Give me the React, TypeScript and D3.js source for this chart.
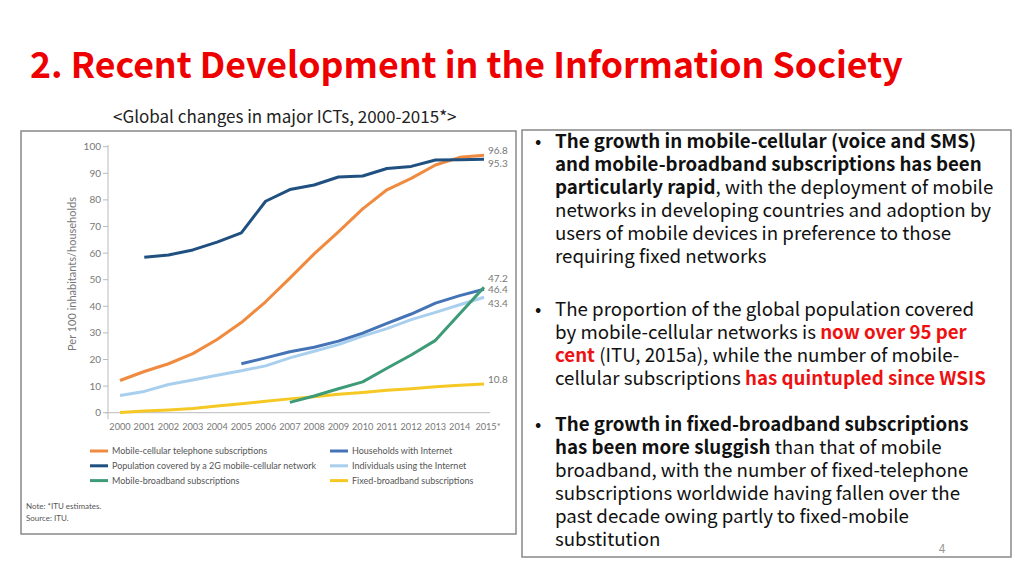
import React from "react";
import * as d3 from "d3";

// ---- data ----
const years = [2000, 2001, 2002, 2003, 2004, 2005, 2006, 2007, 2008, 2009, 2010, 2011, 2012, 2013, 2014, 2015];
const yearLabels = ["2000", "2001", "2002", "2003", "2004", "2005", "2006", "2007", "2008", "2009", "2010", "2011", "2012", "2013", "2014", "2015*"];
const yTicks = [0, 10, 20, 30, 40, 50, 60, 70, 80, 90, 100];

const mobileCellular = [12.1, 15.5, 18.4, 22.2, 27.5, 33.9, 41.7, 50.6, 59.7, 68.0, 76.6, 83.8, 88.1, 93.1, 96.0, 96.8];
const population2G = [null, 58.4, 59.3, 61.2, 64.1, 67.6, 79.5, 83.9, 85.6, 88.6, 89.0, 91.8, 92.6, 95.0, 95.1, 95.3];
const mobileBroadband = [null, null, null, null, null, null, null, 3.9, 6.3, 9.0, 11.6, 16.7, 21.7, 27.2, 37.2, 47.2];
const householdsInternet = [null, null, null, null, null, 18.4, 20.6, 22.9, 24.6, 26.9, 29.9, 33.6, 37.1, 41.2, 44.0, 46.4];
const individualsInternet = [6.5, 8.0, 10.6, 12.3, 14.1, 15.8, 17.6, 20.6, 23.1, 25.6, 28.8, 31.6, 35.0, 37.7, 40.6, 43.4];
const fixedBroadband = [0.1, 0.6, 1.0, 1.6, 2.5, 3.4, 4.3, 5.2, 6.0, 6.9, 7.6, 8.4, 9.0, 9.8, 10.3, 10.8];

const seriesNames = [
  "Mobile-cellular telephone subscriptions",
  "Population covered by a 2G mobile-cellular network",
  "Mobile-broadband subscriptions",
  "Households with Internet",
  "Individuals using the Internet",
  "Fixed-broadband subscriptions",
];
const seriesValues = [mobileCellular, population2G, mobileBroadband, householdsInternet, individualsInternet, fixedBroadband];
const seriesColors = ["#ef8a3f", "#1f5080", "#3d9b78", "#4473b6", "#a9cfee", "#f6c823"];
// end-of-line value labels
const endLabels = ["96.8", "95.3", "47.2", "46.4", "43.4", "10.8"];
const endLabelY = [150, 163.5, 278.5, 289.5, 303.5, 379.5];

const chartFont = "Lato, 'Open Sans', sans-serif";
const textFont = "'Noto Sans CJK KR', 'Open Sans', sans-serif";

type Seg = { t: string; b?: boolean; red?: boolean };
const para1: Seg[][] = [
  [{ t: "The growth in mobile-cellular (voice and SMS)", b: true }],
  [{ t: "and mobile-broadband subscriptions has been", b: true }],
  [{ t: "particularly rapid", b: true }, { t: ", with the deployment of mobile" }],
  [{ t: "networks in developing countries and adoption by" }],
  [{ t: "users of mobile devices in preference to those" }],
  [{ t: "requiring fixed networks" }],
];
const para2: Seg[][] = [
  [{ t: "The proportion of the global population covered" }],
  [{ t: "by mobile-cellular networks is " }, { t: "now over 95 per", b: true, red: true }],
  [{ t: "cent", b: true, red: true }, { t: " (ITU, 2015a), while the number of mobile-" }],
  [{ t: "cellular subscriptions " }, { t: "has quintupled since WSIS", b: true, red: true }],
];
const para3: Seg[][] = [
  [{ t: "The growth in fixed-broadband subscriptions", b: true }],
  [{ t: "has been more sluggish", b: true }, { t: " than that of mobile" }],
  [{ t: "broadband, with the number of fixed-telephone" }],
  [{ t: "subscriptions worldwide having fallen over the" }],
  [{ t: "past decade owing partly to fixed-mobile" }],
  [{ t: "substitution" }],
];

const Paragraph = ({ lines, y0 }: { lines: Seg[][]; y0: number }) => (
  <g>
    <text x={535} y={y0} fontSize={18.7} fontFamily={textFont} fill="#111">•</text>
    {lines.map((line, i) => (
      <text key={i} x={555} y={y0 + i * 23} fontSize={18.7} fontFamily={textFont} fill="#111">
        {line.map((s, j) => (
          <tspan key={j} fontWeight={s.b ? 700 : 400} fill={s.red ? "#ee1111" : "#111"}>{s.t}</tspan>
        ))}
      </text>
    ))}
  </g>
);

export default function App() {
  const x = d3.scalePoint<number>().domain(years).range([120, 484]);
  const y = d3.scaleLinear().domain([0, 100]).range([412.7, 146.7]);
  const line = d3
    .line<number | null>()
    .defined((d) => d != null)
    .x((_, i) => x(years[i]) as number)
    .y((d) => y(d as number));

  return (
    <svg width={1024} height={576} style={{ position: "absolute", left: 0, top: 0, background: "#fff" }}>
      {/* title */}
      <text x={30} y={78} fontSize={35.7} fontWeight={700} fill="#ee0000" fontFamily={textFont}>
        2. Recent Development in the Information Society
      </text>
      <text x={113} y={123} fontSize={17} fill="#222" fontFamily={textFont}>
        &lt;Global changes in major ICTs, 2000-2015*&gt;
      </text>

      {/* chart frame */}
      <rect x={21} y={131} width={495} height={403} fill="none" stroke="#888" strokeWidth={1.5} />

      {/* y axis */}
      <line x1={108} x2={108} y1={145} y2={419} stroke="#bbb" />
      {yTicks.map((t) => (
        <g key={t}>
          <line x1={103} x2={108} y1={y(t)} y2={y(t)} stroke="#bbb" />
          <text x={101} y={y(t) + 3.5} fontSize={10} textAnchor="end" fill="#777" fontFamily={chartFont}>{t}</text>
        </g>
      ))}
      <line x1={105} x2={490} y1={y(0)} y2={y(0)} stroke="#bbb" />
      {years.map((yr, i) => (
        <text key={yr} x={(x(yr) as number) + (yr === 2015 ? 4 : 0)} y={430} fontSize={9.2} textAnchor="middle" fill="#777" fontFamily={chartFont}>
          {yearLabels[i]}
        </text>
      ))}
      <text transform="translate(76,274) rotate(-90)" fontSize={11} textAnchor="middle" fill="#777" fontFamily={chartFont}>
        Per 100 inhabitants/households
      </text>

      {/* lines (drawn light first, dark on top) */}
      {[4, 5, 3, 2, 0, 1].map((k) => (
        <path key={k} d={line(seriesValues[k]) ?? ""} fill="none" stroke={seriesColors[k]} strokeWidth={3} strokeLinejoin="round" />
      ))}
      {endLabels.map((l, i) => (
        <text key={l} x={488} y={endLabelY[i] + 3.5} fontSize={10} fill="#777" fontFamily={chartFont}>{l}</text>
      ))}

      {/* legend */}
      {seriesNames.map((n, i) => {
        const col = i < 3 ? 0 : 1;
        const row = i % 3;
        const lx = col === 0 ? 90 : 330;
        const ly = 451 + row * 14.8;
        return (
          <g key={n}>
            <line x1={lx} x2={lx + 18} y1={ly} y2={ly} stroke={seriesColors[i]} strokeWidth={3} />
            <text x={lx + 22} y={ly + 3.3} fontSize={9} fill="#555" fontFamily={chartFont}>{n}</text>
          </g>
        );
      })}
      <text x={26} y={509} fontSize={8} fill="#555" fontFamily={chartFont}>Note: *ITU estimates.</text>
      <text x={26} y={521} fontSize={8} fill="#555" fontFamily={chartFont}>Source: ITU.</text>

      {/* text box */}
      <rect x={522} y={130} width={489} height={427} fill="none" stroke="#888" strokeWidth={1.5} />
      <Paragraph lines={para1} y0={148} />
      <Paragraph lines={para2} y0={315.5} />
      <Paragraph lines={para3} y0={430.5} />
      <text x={942} y={553} fontSize={12} fill="#999" fontFamily={textFont} textAnchor="middle">4</text>
    </svg>
  );
}
